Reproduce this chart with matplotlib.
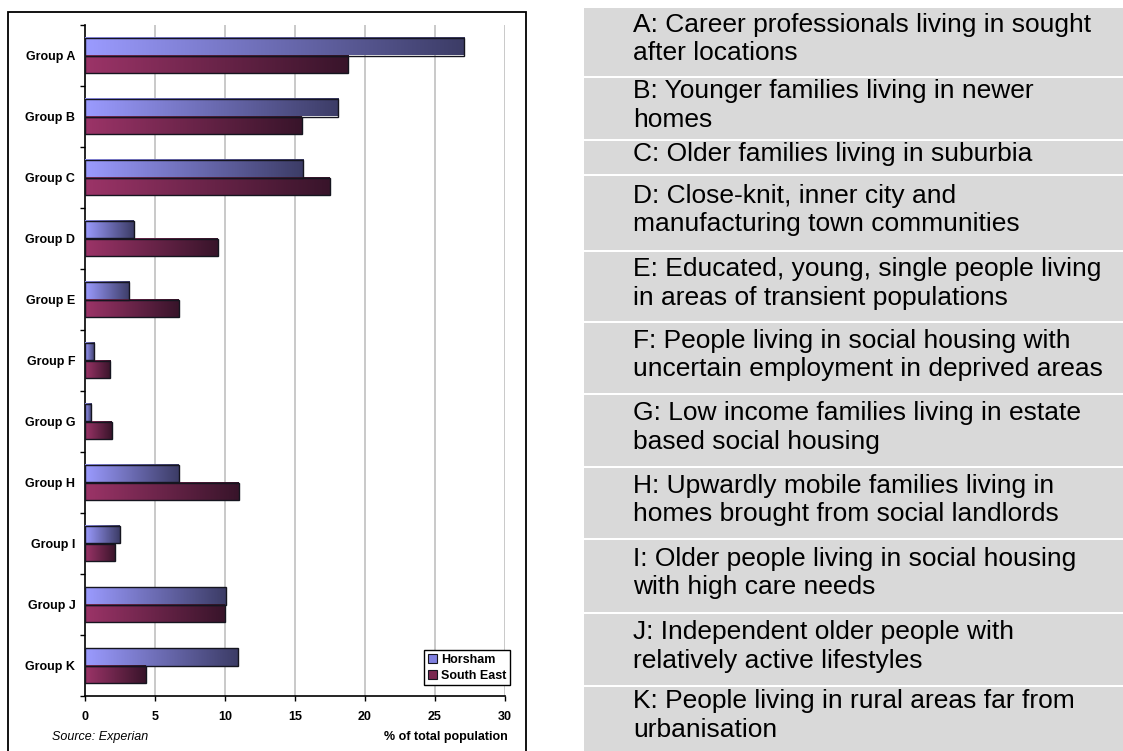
import numpy as np
import matplotlib
matplotlib.use("Agg")
import matplotlib.pyplot as plt
from matplotlib.colors import LinearSegmentedColormap
from matplotlib.patches import Rectangle

plt.rcParams['font.family'] = ['Liberation Sans', 'DejaVu Sans']

# Mosaic group share of population (%)
groups = ['Group A', 'Group B', 'Group C', 'Group D', 'Group E', 'Group F',
          'Group G', 'Group H', 'Group I', 'Group J', 'Group K']
horsham = [27.1, 18.1, 15.6, 3.5, 3.15, 0.65, 0.45, 6.7, 2.5, 10.05, 10.9]
south_east = [18.8, 15.5, 17.5, 9.5, 6.7, 1.8, 1.9, 11.0, 2.15, 10.0, 4.35]
series_names = ['Horsham', 'South East']
xticks = [0, 5, 10, 15, 20, 25, 30]

descriptions = [
    "A: Career professionals living in sought\nafter locations",
    "B: Younger families living in newer\nhomes",
    "C: Older families living in suburbia",
    "D: Close-knit, inner city and\nmanufacturing town communities",
    "E: Educated, young, single people living\nin areas of transient populations",
    "F: People living in social housing with\nuncertain employment in deprived areas",
    "G: Low income families living in estate\nbased social housing",
    "H: Upwardly mobile families living in\nhomes brought from social landlords",
    "I: Older people living in social housing\nwith high care needs",
    "J: Independent older people with\nrelatively active lifestyles",
    "K: People living in rural areas far from\nurbanisation",
]

W, H = 1123, 751
fig = plt.figure(figsize=(W / 100, H / 100), dpi=100)


def fx(px):
    return px / W


def fy(py):
    return 1 - py / H


# frame round the chart
fig.patches.append(Rectangle((fx(8), fy(770)), fx(526) - fx(8), fy(12) - fy(770),
                             transform=fig.transFigure, fill=False,
                             edgecolor='black', lw=1.3))

ax = fig.add_axes([fx(85), fy(696), fx(505) - fx(85), fy(25) - fy(696)])

cmaps = [LinearSegmentedColormap.from_list('hor', ['#9b9bff', '#3c3c66']),
         LinearSegmentedColormap.from_list('se', ['#9c3468', '#38142a'])]
grad = np.linspace(0, 1, 256).reshape(1, -1)

y = np.arange(len(groups))
bh = 0.287
for k, vals in enumerate([horsham, south_east]):
    offs = -bh / 2 if k == 0 else bh / 2
    bars = ax.barh(y + offs, vals, height=bh, facecolor='none',
                   edgecolor='#15151f', lw=1.0, zorder=4)
    for b in bars:
        x0, y0 = b.get_x(), b.get_y()
        ax.imshow(grad, cmap=cmaps[k], aspect='auto', interpolation='bilinear',
                  extent=[x0, x0 + b.get_width(), y0 + bh, y0], zorder=3)

ax.set_xlim(0, 30)
ax.set_ylim(len(groups) - 0.5, -0.5)
ax.set_xticks(xticks)
ax.set_xticklabels([str(t) for t in xticks], fontsize=9, fontweight='bold')
ax.set_yticks(y)
ax.set_yticklabels(groups, fontsize=9, fontweight='bold')
ax.set_yticks(np.arange(-0.5, len(groups)), minor=True)
ax.tick_params(axis='y', which='major', length=0, pad=7)
ax.tick_params(axis='y', which='minor', length=3.5, width=1, direction='out')
ax.tick_params(axis='x', length=3.5, width=1, direction='out', pad=7)

for t in xticks[1:]:
    ax.axvline(t, color='#c0c0c0', lw=1.2, zorder=1)
ax.spines['top'].set_visible(False)
ax.spines['right'].set_visible(False)
ax.spines['left'].set_linewidth(1.2)
ax.spines['bottom'].set_linewidth(1.2)

handles = [Rectangle((0, 0), 1, 1, facecolor='#8080e0', edgecolor='#15151f', lw=0.8),
           Rectangle((0, 0), 1, 1, facecolor='#7a2850', edgecolor='#15151f', lw=0.8)]
leg = ax.legend(handles, series_names, loc='lower right',
                bbox_to_anchor=(1.012, 0.016), prop={'size': 9, 'weight': 'bold'},
                handlelength=0.75, handleheight=0.75, handletextpad=0.3,
                borderpad=0.3, labelspacing=0.3, fancybox=False,
                framealpha=1, edgecolor='black', borderaxespad=0)
leg.get_frame().set_linewidth(1.0)

fig.text(fx(52), fy(737), 'Source: Experian', fontsize=9, style='italic',
         va='center', ha='left')
fig.text(fx(508), fy(737), '% of total population', fontsize=9,
         fontweight='bold', va='center', ha='right')

# key to the groups on the right
row_edges = [7, 77, 140, 175, 251, 322, 394, 467, 539, 613, 686, 770]
for i, txt in enumerate(descriptions):
    top, bot = row_edges[i], row_edges[i + 1]
    fig.patches.append(Rectangle((fx(584), fy(bot - 1)), 1 - fx(584),
                                 fy(top + 1) - fy(bot - 1),
                                 transform=fig.transFigure,
                                 facecolor='#d9d9d9', edgecolor='none'))
    yc = (top + min(bot, 751)) / 2 - 3
    fig.text(fx(633), fy(yc), txt, fontsize=19, va='center', ha='left',
             linespacing=1.25, color='black')

fig.savefig('out.png', dpi=100)
